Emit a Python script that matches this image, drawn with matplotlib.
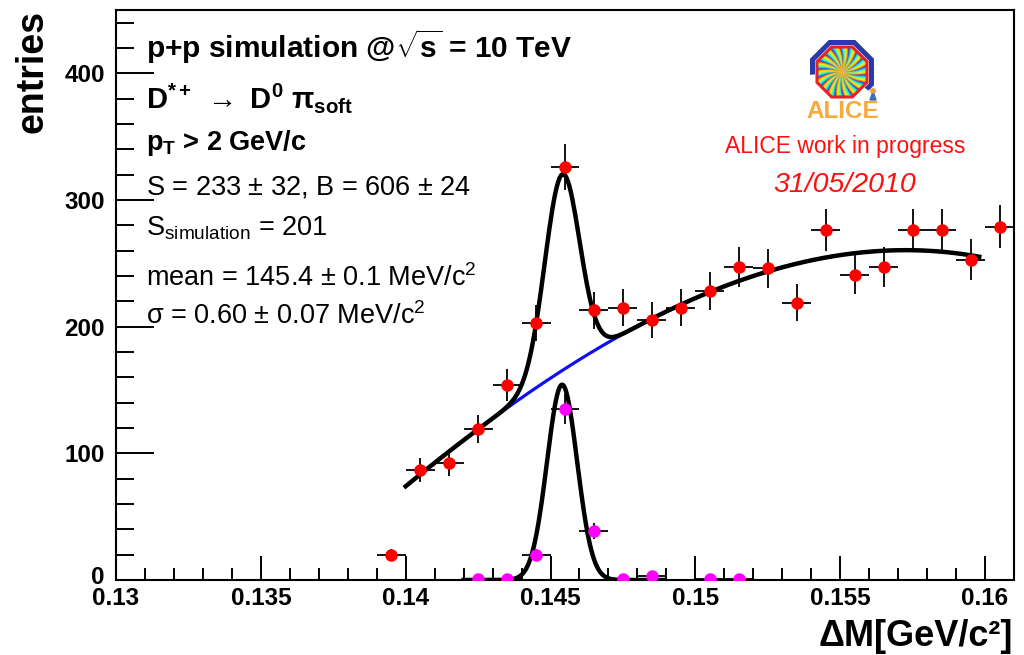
import numpy as np
import matplotlib
matplotlib.use("Agg")
import matplotlib.pyplot as plt
from matplotlib.patches import Polygon
from matplotlib.ticker import MultipleLocator
from matplotlib.transforms import ScaledTranslation

# region Style
plt.rcParams['font.family'] = ['Liberation Sans', 'DejaVu Sans']
plt.rcParams['mathtext.fontset'] = 'custom'
plt.rcParams['mathtext.rm'] = 'Liberation Sans'
plt.rcParams['mathtext.bf'] = 'Liberation Sans:bold'
plt.rcParams['mathtext.it'] = 'Liberation Sans:italic'
# endregion

# region Data
# delta M bin centres (GeV/c^2), bin width 1 MeV
data_mass = [0.1395, 0.1405, 0.1415, 0.1425, 0.1435, 0.1445, 0.1455, 0.1465,
             0.1475, 0.1485, 0.1495, 0.1505, 0.1515, 0.1525, 0.1535, 0.1545,
             0.1555, 0.1565, 0.1575, 0.1585, 0.1595, 0.1605]
data_entries = [20, 87, 92, 119, 154, 203, 326, 213, 215, 205, 215, 228,
                247, 246, 219, 276, 241, 247, 276, 276, 253, 279]

# true D* signal from the simulation
sim_mass = [0.1425, 0.1435, 0.1445, 0.1455, 0.1465, 0.1475, 0.1485, 0.1505, 0.1515]
sim_entries = [1, 1, 20, 135, 39, 1, 3, 1, 1]

bin_width = 0.001

# fit results (MeV units): gaussian signal + cubic background in t = dM - 140 MeV
fit_signal = 233
fit_mean = 145.4
fit_sigma = 0.60
bkg_coeffs = [74.0, 18.833, -0.3056, -0.00926]
fit_range = (0.1400, 0.1598)

sim_signal = 201
sim_mean = 145.4
sim_sigma = 0.52
sim_range = (0.1420, 0.1489)

x_ticks = [0.13, 0.135, 0.14, 0.145, 0.15, 0.155, 0.16]
x_tick_labels = ['0.13', '0.135', '0.14', '0.145', '0.15', '0.155', '0.16']
y_ticks = [0, 100, 200, 300, 400]
# endregion


def gauss(x, total, mean, sigma):
    xm = x * 1000.0
    amp = total * bin_width * 1000.0 / (sigma * np.sqrt(2 * np.pi))
    return amp * np.exp(-0.5 * ((xm - mean) / sigma) ** 2)


def background(x):
    t = x * 1000.0 - 140.0
    return sum(c * t ** i for i, c in enumerate(bkg_coeffs))


def px(x, y):
    # pixel position -> figure fraction
    return x / 1024.0, 1 - y / 655.0


fig = plt.figure(figsize=(10.24, 6.55), dpi=100)
ax = fig.add_axes([116 / 1024, 75 / 655, 898 / 1024, 570 / 655])

# region Fit curves
xf = np.linspace(fit_range[0], fit_range[1], 400)
ax.plot(xf, background(xf), color='#1010ee', lw=2.3, zorder=2)
ax.plot(xf, background(xf) + gauss(xf, fit_signal, fit_mean, fit_sigma),
        color='black', lw=3.2, zorder=3)

xs = np.linspace(sim_range[0], sim_range[1], 300)
ax.plot(xs, gauss(xs, sim_signal, sim_mean, sim_sigma), color='black', lw=3.2, zorder=3)
# endregion

# region Points with errors
ax.errorbar(data_mass, data_entries, xerr=bin_width / 2, yerr=np.sqrt(data_entries),
            fmt='o', color='#ff0000', ms=9, mew=0, ecolor='black', elinewidth=1.3,
            capsize=0, zorder=4)
ax.errorbar(sim_mass, sim_entries, xerr=bin_width / 2, yerr=np.sqrt(sim_entries),
            fmt='o', color='#ff00ff', ms=9, mew=0, ecolor='black', elinewidth=1.3,
            capsize=0, zorder=4)
# endregion

# region Axes
ax.set_xlim(0.13, 0.161)
ax.set_ylim(0, 450)
ax.set_xticks(x_ticks)
ax.set_xticklabels(x_tick_labels)
ax.set_yticks(y_ticks)
ax.xaxis.set_minor_locator(MultipleLocator(0.001))
ax.yaxis.set_minor_locator(MultipleLocator(20))
ax.tick_params(which='both', direction='in', top=False, right=False, width=1.4)
ax.tick_params(axis='y', which='major', length=27, labelsize=17.5, pad=8)
ax.tick_params(axis='y', which='minor', length=13)
ax.tick_params(axis='x', which='major', length=17, labelsize=17.5, pad=5)
ax.tick_params(axis='x', which='minor', length=9)
for lab in ax.get_xticklabels() + ax.get_yticklabels():
    lab.set_fontweight('bold')
# nudge the zero label up a few pixels so it clears 0.13
zero_lab = ax.get_yticklabels()[0]
zero_lab.set_transform(zero_lab.get_transform() + ScaledTranslation(0, 5 / 100, fig.dpi_scale_trans))
for sp in ax.spines.values():
    sp.set_linewidth(1.5)

fig.text(*px(32, 10), 'entries', rotation=90, ha='center', va='top',
         fontsize=27, fontweight='bold')
fig.text(*px(1013, 646), 'ΔM[GeV/c²]', ha='right', va='baseline',
         fontsize=26, fontweight='bold')
# endregion

# region Fit info
fig.text(*px(146, 47), r'p+p simulation @$\sqrt{\mathbf{s}}$ = 10 TeV', va='center',
         fontsize=21.5, fontweight='bold')
fig.text(*px(146, 98), r'D$^\mathbf{*+}\ \rightarrow\ $D$^\mathbf{0}$ π$_\mathbf{soft}$',
         va='center', fontsize=21, fontweight='bold')
fig.text(*px(146, 143), r'p$_\mathbf{T}$ > 2 GeV/c', va='center', fontsize=19.5,
         fontweight='bold')
fig.text(*px(146, 188), r'S = %d $\pm$ 32, B = 606 $\pm$ 24' % fit_signal, va='center',
         fontsize=19.5)
fig.text(*px(146, 228), r'S$_\mathrm{simulation}$ = %d' % sim_signal, va='center',
         fontsize=19.5)
fig.text(*px(146, 278), r'mean = %.1f $\pm$ 0.1 MeV/c$^2$' % fit_mean, va='center',
         fontsize=19.5)
fig.text(*px(146, 316), r'σ = %.2f $\pm$ 0.07 MeV/c$^2$' % fit_sigma, va='center',
         fontsize=19.5)

fig.text(*px(845, 147), 'ALICE work in progress', ha='center', va='center',
         fontsize=16.5, color='#ff1010')
fig.text(*px(845, 185), '31/05/2010', ha='center', va='center', fontsize=20.5,
         style='italic', color='#ff1010')
# endregion

# region ALICE logo
logo = fig.add_axes([800 / 1024, 1 - 128 / 655, 90 / 1024, 95 / 655])
logo.set_xlim(800, 890)
logo.set_ylim(128, 33)
logo.axis('off')
cx, cy = 842.0, 72.0


def octagon(apothem, a0, a1):
    # points along an octagon with flat top, from angle a0 to a1 (degrees, y up)
    r = apothem / np.cos(np.pi / 8)
    pts = []
    corners = [22.5 + 45 * k for k in range(-8, 9)]
    pts.append(a0)
    pts += [c for c in corners if a0 < c < a1]
    pts.append(a1)
    out = []
    for a in pts:
        if a in corners:
            rr = r
        else:
            sector = np.floor((a - 22.5) / 45) * 45 + 45
            rr = apothem / np.cos(np.radians(a - sector))
        out.append((cx + rr * np.cos(np.radians(a)), cy - rr * np.sin(np.radians(a))))
    return out


outer = octagon(32, -35, 185)
inner = octagon(27, -35, 185)[::-1]
logo.add_patch(Polygon(outer + inner, closed=True, color='#2a3aa8', lw=0))

oct_pts = octagon(25, -180, 180)
ring = Polygon(oct_pts, closed=True, fc='none', ec='#e8202a', lw=2.2, zorder=3)
logo.add_patch(ring)

gx, gy = np.meshgrid(np.linspace(815, 869, 120), np.linspace(45, 99, 120))
ang = np.arctan2(gy - cy, gx - cx)
rad = np.hypot(gx - cx, gy - cy)
hue = (ang * 18 / (2 * np.pi) + rad * 0.03) % 1.0
rgb = plt.cm.jet(0.15 + 0.7 * hue)[..., :3]
w = np.exp(-rad / 9.0)[..., None]
rgb = rgb * (1 - w) + np.array([1.0, 0.7, 0.15]) * w
img = logo.imshow(rgb, extent=(815, 869, 99, 45), zorder=2)
img.set_clip_path(Polygon(oct_pts, closed=True, transform=logo.transData))
logo.set_xlim(800, 890)
logo.set_ylim(128, 33)

logo.add_patch(plt.Circle((873, 91), 2.2, color='#f0a030', zorder=4))
logo.add_patch(Polygon([(870, 100), (876, 100), (874, 94), (872, 94)], closed=True,
                       color='#3a6fc0', zorder=4))
logo.text(843, 111, 'ALICE', ha='center', va='center', fontsize=17.5,
          fontweight='bold', color='#f8ab3c')
# endregion

fig.savefig('out.png', dpi=100)
